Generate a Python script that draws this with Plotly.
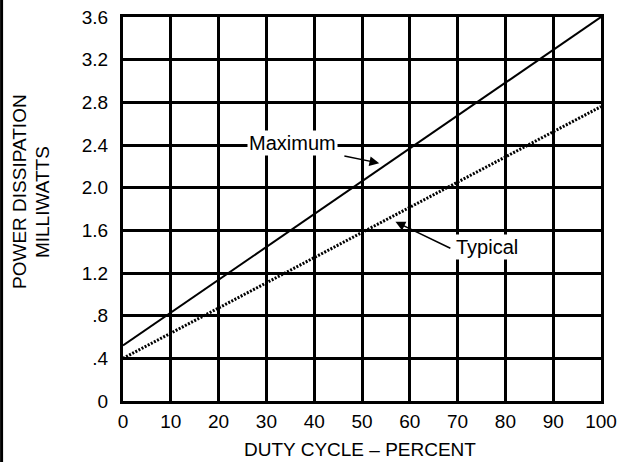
import plotly.graph_objects as go

duty_cycle = [0, 100]
maximum_mw = [0.52, 3.6]
typical_mw = [0.40, 2.76]

x_ticks = [0, 10, 20, 30, 40, 50, 60, 70, 80, 90, 100]
y_tickvals = [0, 0.4, 0.8, 1.2, 1.6, 2.0, 2.4, 2.8, 3.2, 3.6]
y_ticktext = ["0", ".4", ".8", "1.2", "1.6", "2.0", "2.4", "2.8", "3.2", "3.6"]

FONT = "Liberation Sans, Arial, Helvetica, sans-serif"
FS = 19

fig = go.Figure()
fig.add_trace(go.Scatter(x=duty_cycle, y=maximum_mw, mode="lines",
                         line=dict(color="black", width=2), name="Maximum",
                         showlegend=False))
fig.add_trace(go.Scatter(x=duty_cycle, y=typical_mw, mode="lines",
                         line=dict(color="black", width=3, dash="2px,1.5px"),
                         name="Typical", showlegend=False))

fig.update_layout(
    width=632, height=462,
    margin=dict(l=123, r=31, t=17, b=61, autoexpand=False),
    paper_bgcolor="white", plot_bgcolor="white",
    font=dict(family=FONT, size=FS, color="black"),
    xaxis=dict(range=[0, 100], tickvals=x_ticks, showgrid=True,
               gridcolor="black", gridwidth=3, zeroline=False,
               showline=True, linecolor="black", linewidth=3, mirror=True,
               ticks="", tickfont=dict(size=FS), ticklabelstandoff=1,
               automargin=False),
    yaxis=dict(range=[0, 3.6], tickvals=y_tickvals, ticktext=y_ticktext,
               showgrid=True, gridcolor="black", gridwidth=3, zeroline=False,
               showline=True, linecolor="black", linewidth=3, mirror=True,
               ticks="", tickfont=dict(size=FS), ticklabelstandoff=8,
               automargin=False),
)

# axis titles
fig.add_annotation(text="POWER DISSIPATION", xref="paper", yref="paper",
                   x=-0.2155, y=0.547, showarrow=False, textangle=-90,
                   font=dict(size=FS), xanchor="center", yanchor="middle")
fig.add_annotation(text="MILLIWATTS", xref="paper", yref="paper",
                   x=-0.1695, y=0.518, showarrow=False, textangle=-90,
                   font=dict(size=FS), xanchor="center", yanchor="middle")
fig.add_annotation(text="DUTY CYCLE – PERCENT", xref="paper", yref="paper",
                   x=0.4948, y=-0.125, showarrow=False,
                   font=dict(size=FS), xanchor="center", yanchor="middle")

# label texts with white background
fig.add_annotation(text="Maximum", x=35.4, y=2.42, showarrow=False,
                   bgcolor="white", font=dict(size=20), borderpad=1)
fig.add_annotation(text="Typical", x=76.2, y=1.445, showarrow=False,
                   bgcolor="white", font=dict(size=20), borderpad=1)

# arrows
fig.add_annotation(text="", x=53.6, y=2.23, ax=46.0, ay=2.30,
                   axref="x", ayref="y", showarrow=True, arrowhead=2,
                   arrowsize=1.3, arrowwidth=1.5, arrowcolor="black")
fig.add_annotation(text="", x=57.0, y=1.68, ax=68.8, ay=1.425,
                   axref="x", ayref="y", showarrow=True, arrowhead=2,
                   arrowsize=1.3, arrowwidth=1.5, arrowcolor="black")

# left page border line
fig.add_shape(type="line", xref="paper", yref="paper",
              x0=-0.254, x1=-0.254, y0=-0.2, y1=1.1,
              line=dict(color="black", width=3))

fig.write_html("out.html", config={"displayModeBar": False},
               post_script="document.body.style.margin='0';")
